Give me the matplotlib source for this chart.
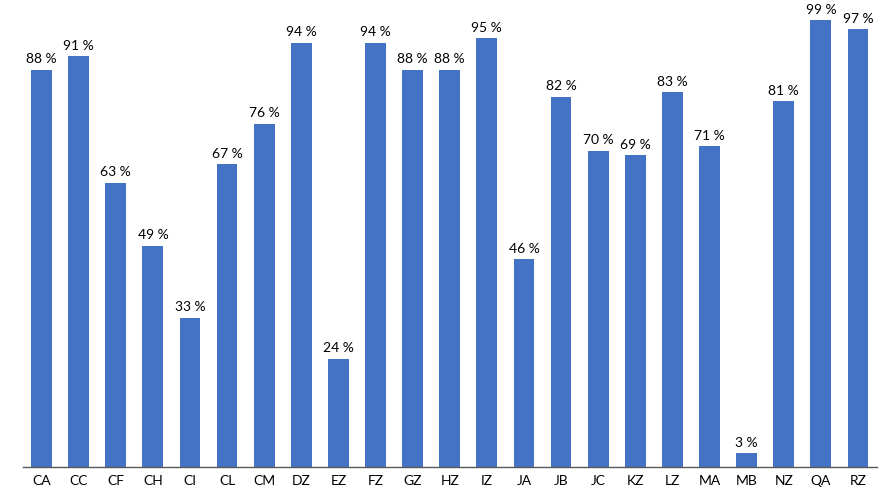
import matplotlib.pyplot as plt

plt.rcParams['font.family'] = ['Lato', 'DejaVu Sans']

sites = ['CA', 'CC', 'CF', 'CH', 'CI', 'CL', 'CM', 'DZ', 'EZ', 'FZ', 'GZ', 'HZ',
         'IZ', 'JA', 'JB', 'JC', 'KZ', 'LZ', 'MA', 'MB', 'NZ', 'QA', 'RZ']
pct = [88, 91, 63, 49, 33, 67, 76, 94, 24, 94, 88, 88,
       95, 46, 82, 70, 69, 83, 71, 3, 81, 99, 97]

fig = plt.figure(figsize=(8.86, 4.98), dpi=100)
ax = fig.add_axes([23 / 886, 1 - 467 / 498, 853.5 / 886, 451.5 / 498])

x = range(len(sites))
bars = ax.bar(x, pct, width=0.56, color='#4472C4')
for b, v in zip(bars, pct):
    ax.text(b.get_x() + b.get_width() / 2, v + 1, '%d %%' % v,
            ha='center', va='bottom', fontsize=10, color='#000000')

ax.set_xlim(-0.5, len(sites) - 0.5)
ax.set_ylim(0, 100)
ax.set_xticks(list(x))
ax.set_xticklabels(sites, fontsize=10)
ax.tick_params(axis='x', length=0, pad=6)
ax.set_yticks([])
for s in ['top', 'right', 'left']:
    ax.spines[s].set_visible(False)
ax.spines['bottom'].set_color('#595959')
ax.spines['bottom'].set_linewidth(1)

fig.savefig('out.png', dpi=100)
